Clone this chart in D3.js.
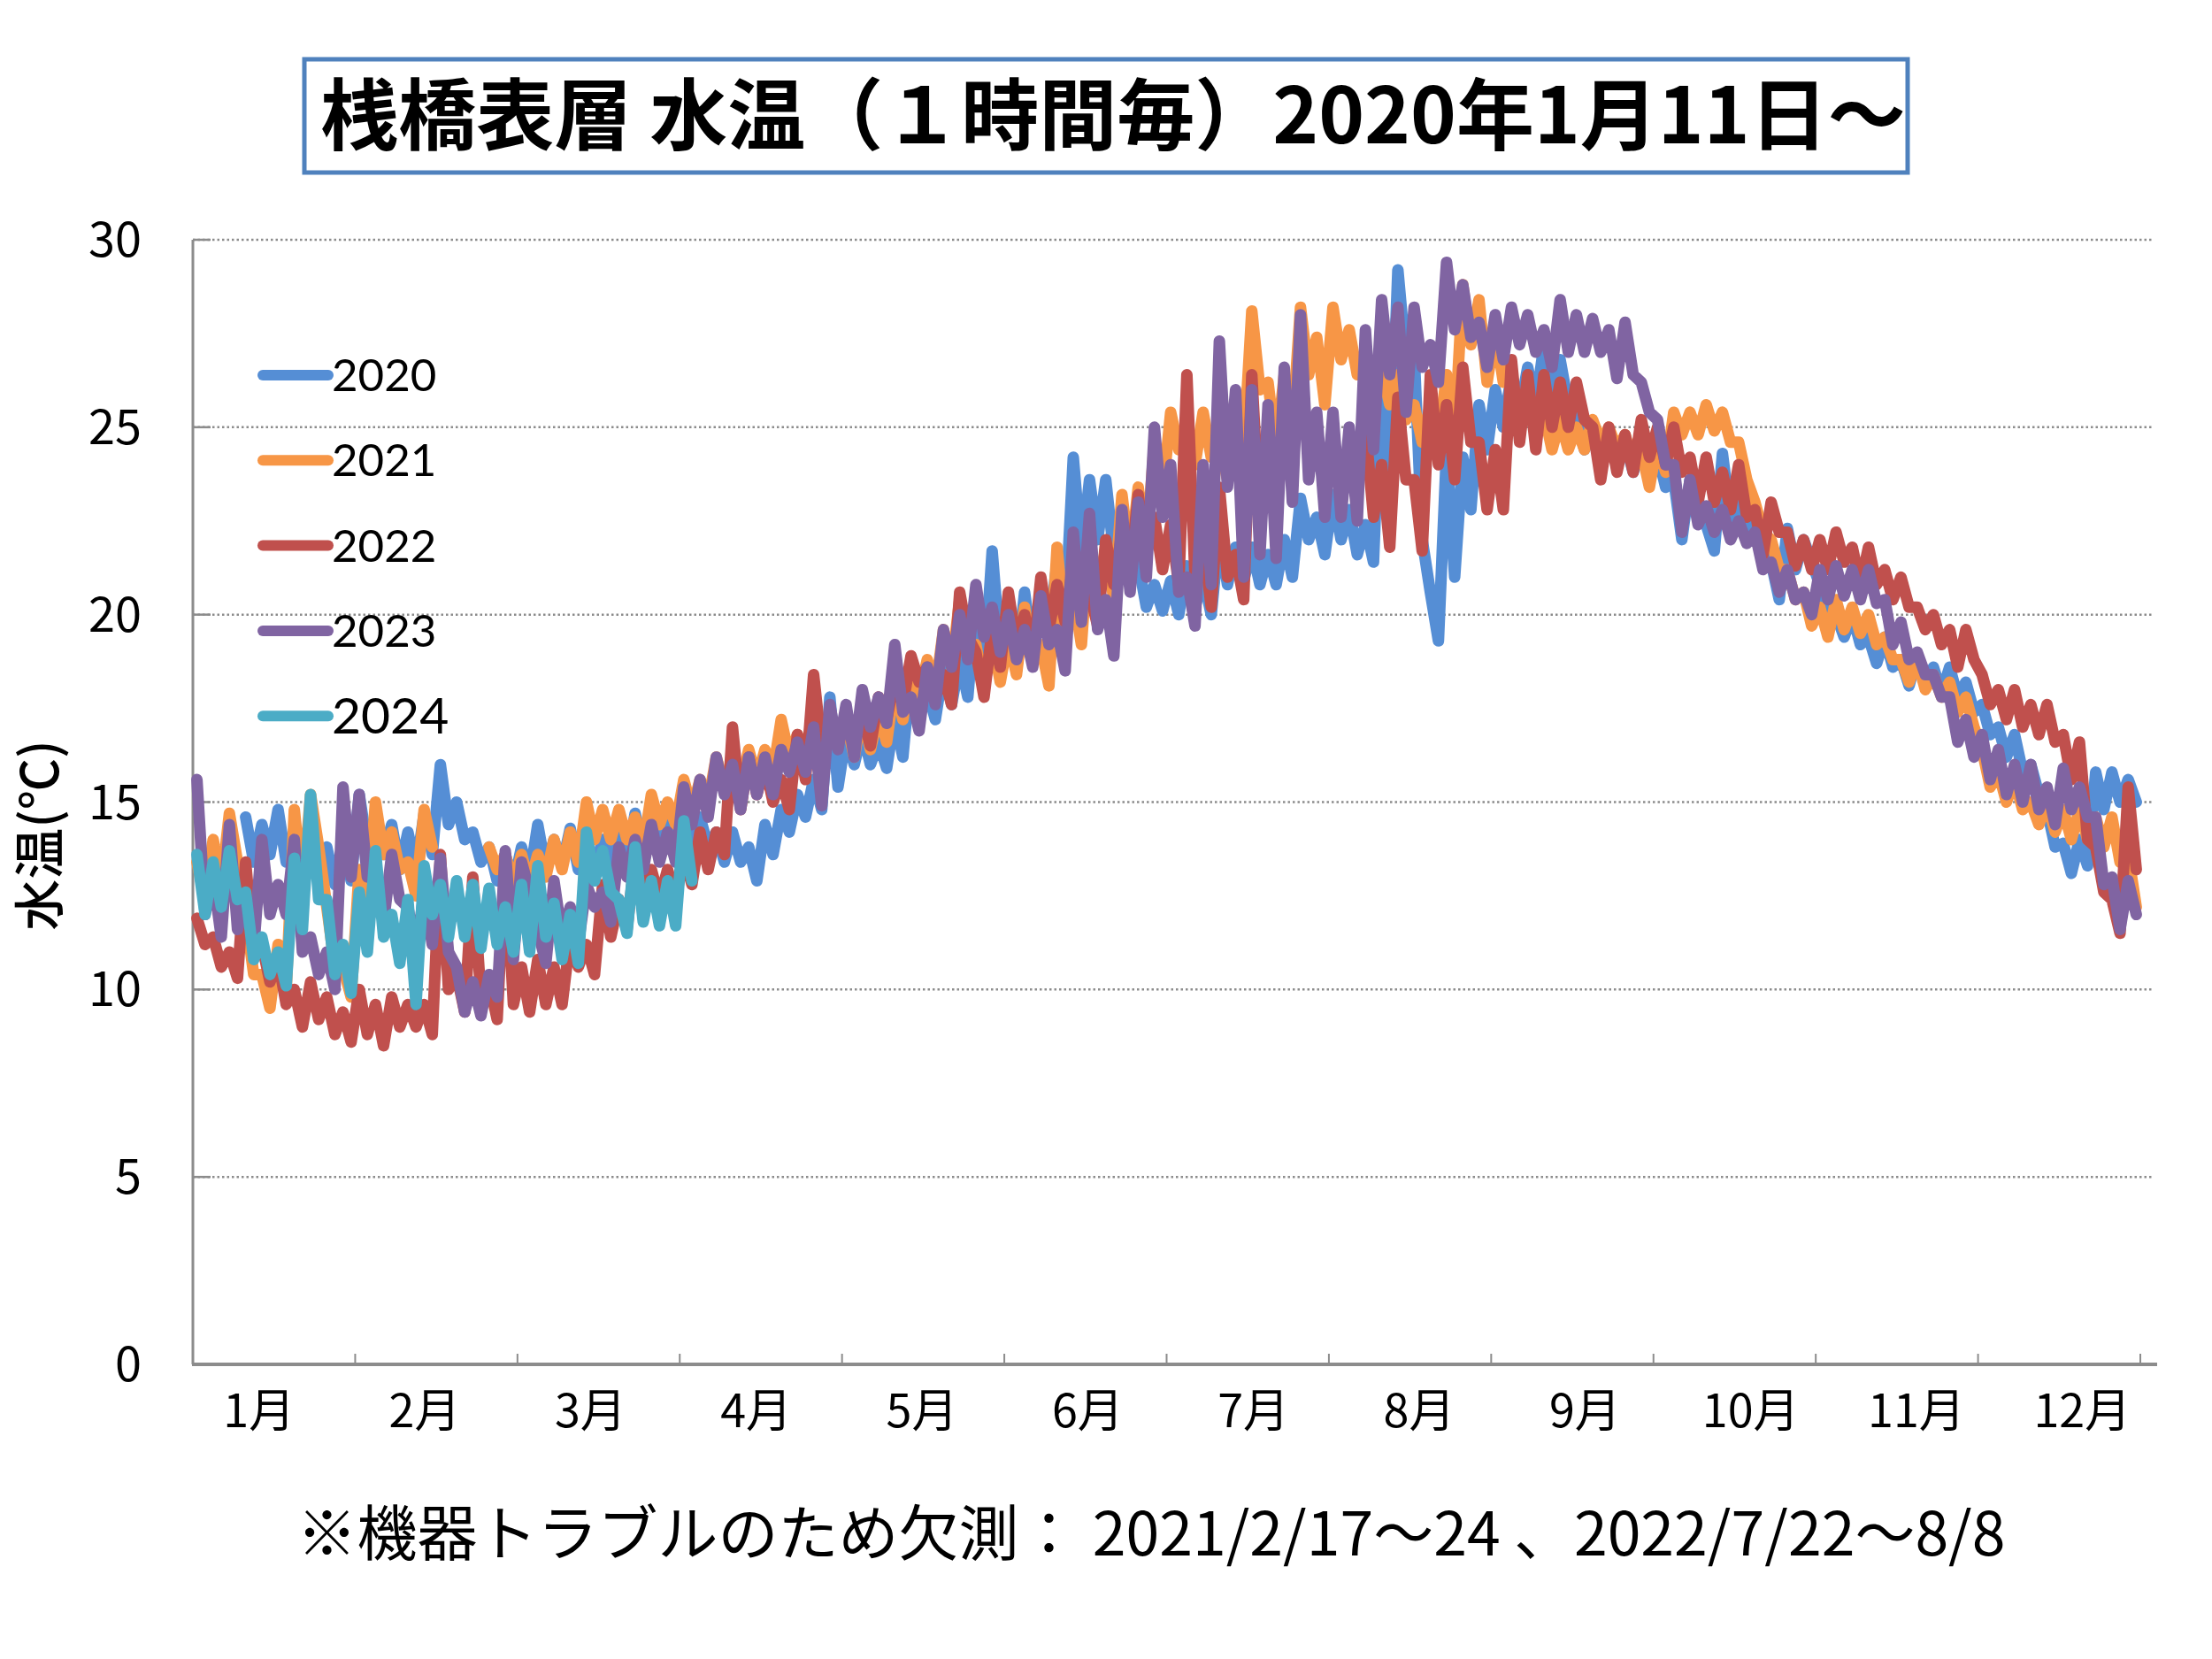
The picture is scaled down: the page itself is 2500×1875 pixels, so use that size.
<!DOCTYPE html>
<html>
<head>
<meta charset="utf-8">
<script src="https://cdn.jsdelivr.net/npm/d3@7/dist/d3.min.js"></script>
<style>
  body { margin: 0; background: #fff; }
</style>
</head>
<body>
<div id="chart"></div>
<script>
// month labels and y ticks
const months = ['1月', '2月', '3月', '4月', '5月', '6月', '7月', '8月', '9月', '10月', '11月', '12月'];
const yTicks = [0, 5, 10, 15, 20, 25, 30];
const years = ['2020', '2021', '2022', '2023', '2024'];

// water temp: 20 values per month (~1.5 days apart),
// high/low pairs so the line fills the hourly band like the original
const t2020 = [
  null, null, null, null, null, null, 14.6, 13.4, 14.4, 13.6, 14.8, 13.4, 14.0, 13.2, 14.0, 12.8, 13.8, 12.8, 14.0, 12.9,
  15.2, 13.8, 14.4, 13.6, 14.4, 13.2, 14.2, 13.2, 14.7, 13.6, 16.0, 14.4, 15.0, 14.0, 14.2, 13.4, 13.8, 12.9, 13.6, 12.8,
  13.8, 13.0, 14.4, 13.2, 14.0, 13.3, 14.3, 13.2, 14.0, 13.2, 14.0, 13.4, 14.2, 13.4, 14.7, 13.8, 14.6, 13.8, 14.5, 13.8,
  14.6, 14.0, 14.6, 13.8, 14.2, 13.4, 14.2, 13.4, 13.8, 12.9, 14.4, 13.6, 14.8, 14.2, 15.2, 14.6, 15.6, 14.8, 17.8, 15.4,
  16.8, 16.0, 16.9, 16.0, 16.6, 15.9, 17.3, 16.2, 18.6, 17.4, 18.0, 17.2, 18.6, 17.6, 18.8, 17.8, 20.4, 18.4, 21.7, 19.0,
  19.8, 18.5, 20.6, 19.0, 20.8, 19.6, 21.4, 20.0, 24.2, 21.6, 23.6, 22.0, 23.6, 21.6, 21.8, 20.9, 21.4, 20.2, 20.8, 20.1,
  20.9, 20.0, 21.3, 20.2, 21.0, 20.0, 22.2, 20.8, 21.8, 20.9, 21.8, 20.8, 21.6, 20.8, 22.0, 21.0, 23.1, 22.0, 22.6, 21.6,
  23.2, 22.0, 22.8, 21.6, 22.4, 21.4, 27.0, 23.5, 29.2, 26.8, 27.0, 22.0, 20.6, 19.3, 24.4, 21.0, 24.2, 22.8, 25.6, 24.4,
  26.0, 25.0, 26.4, 25.4, 26.6, 25.6, 27.2, 26.0, 26.8, 25.6, 25.2, 24.4, 25.0, 24.2, 24.8, 24.0, 24.6, 23.8, 24.4, 23.6,
  24.3, 23.4, 23.6, 22.0, 23.6, 22.6, 22.4, 21.7, 24.3, 22.6, 23.1, 22.2, 22.4, 21.8, 21.4, 20.4, 22.3, 21.2, 22.0, 21.4,
  20.8, 19.8, 20.0, 19.4, 20.0, 19.2, 19.4, 18.7, 19.4, 18.6, 18.8, 18.1, 18.9, 18.2, 18.6, 17.9, 18.6, 17.8, 18.2, 17.4,
  17.6, 16.8, 17.0, 16.2, 16.8, 15.8, 16.0, 15.2, 14.8, 13.8, 13.9, 13.1, 14.0, 13.3, 15.8, 14.8, 15.8, 15.0, 15.6, 15.0,
];
const t2021 = [
  13.4, 12.4, 14.0, 12.8, 14.7, 13.4, 12.0, 10.4, 10.4, 9.5, 11.2, 10.0, 14.8, 12.6, 15.2, 13.8, 12.2, 10.6, 10.6, 9.8,
  13.2, 12.2, 15.0, 13.6, 14.2, 13.2, 13.4, 12.5, 14.8, 13.8, null, null, null, null, null, null, 13.8, 13.2, 13.6, 12.8,
  13.6, 12.8, 13.6, 13.0, 14.0, 13.2, 14.2, 13.4, 15.0, 14.0, 14.8, 14.0, 14.8, 14.0, 14.6, 13.8, 15.2, 14.4, 15.0, 14.4,
  15.6, 14.8, 15.6, 15.0, 16.2, 15.4, 16.0, 15.4, 16.4, 15.6, 16.4, 15.8, 17.2, 16.2, 16.8, 16.2, 17.0, 16.2, 17.4, 16.6,
  17.2, 16.2, 17.4, 16.4, 17.4, 16.6, 18.2, 17.2, 18.6, 17.8, 18.8, 18.0, 19.6, 18.6, 20.4, 19.2, 19.2, 18.0, 19.4, 18.2,
  19.4, 18.4, 20.2, 18.8, 19.2, 18.1, 21.8, 19.4, 20.6, 19.2, 22.2, 20.4, 21.8, 20.4, 23.2, 21.4, 23.4, 21.8, 24.6, 23.2,
  25.4, 24.4, 25.0, 24.0, 25.4, 24.2, 24.6, 23.6, 25.6, 24.4, 28.1, 26.0, 26.2, 24.4, 26.4, 25.0, 28.2, 26.4, 27.4, 25.6,
  28.2, 26.8, 27.6, 26.4, 27.0, 25.8, 26.6, 25.6, 26.4, 25.2, 25.6, 24.6, 25.6, 24.6, 26.4, 24.8, 28.8, 27.2, 28.4, 26.2,
  27.6, 26.2, 26.4, 25.2, 26.0, 25.0, 25.4, 24.4, 25.2, 24.4, 25.0, 24.4, 25.2, 24.6, 25.0, 24.4, 24.8, 24.0, 24.4, 23.4,
  24.6, 23.8, 25.4, 24.8, 25.4, 24.8, 25.6, 24.9, 25.4, 24.6, 24.6, 23.6, 23.0, 22.2, 22.0, 21.2, 21.2, 20.4, 20.6, 19.7,
  20.2, 19.4, 20.4, 19.6, 20.2, 19.5, 20.0, 19.2, 19.4, 18.8, 18.8, 18.2, 18.8, 18.0, 18.4, 17.8, 18.2, 17.4, 17.8, 17.0,
  16.4, 15.4, 15.8, 15.0, 15.6, 14.8, 15.0, 14.4, 15.0, 14.2, 14.8, 14.0, 14.8, 14.0, 14.6, 13.8, 14.6, 13.4, 13.6, 12.2,
];
const t2022 = [
  11.9, 11.2, 11.4, 10.6, 11.0, 10.3, 13.4, 11.0, 11.2, 10.2, 10.8, 9.6, 10.0, 9.0, 10.2, 9.2, 9.8, 8.8, 9.4, 8.6,
  10.0, 8.8, 9.6, 8.5, 9.8, 9.0, 9.6, 9.0, 9.6, 8.8, 13.6, 10.0, 10.4, 9.4, 13.0, 9.8, 10.2, 9.2, 13.6, 9.6,
  10.6, 9.4, 10.8, 9.6, 10.6, 9.6, 11.4, 10.6, 11.2, 10.4, 12.8, 11.4, 12.4, 11.6, 13.6, 12.4, 13.2, 12.4, 13.2, 12.4,
  13.6, 12.8, 14.2, 13.2, 14.2, 13.6, 17.0, 14.8, 16.2, 15.2, 16.0, 15.0, 15.6, 14.8, 16.8, 15.6, 18.4, 16.4, 17.2, 16.6,
  17.2, 16.6, 17.3, 16.5, 17.8, 17.2, 18.3, 17.6, 18.9, 18.2, 18.6, 17.8, 18.4, 17.6, 20.6, 19.4, 19.0, 17.8, 19.6, 18.6,
  20.6, 19.2, 20.0, 18.8, 21.0, 19.6, 20.8, 19.8, 21.4, 20.2, 20.6, 19.7, 22.0, 20.8, 22.2, 21.2, 23.2, 21.6, 22.6, 21.2,
  22.4, 20.8, 26.4, 21.0, 22.0, 20.2, 23.4, 21.0, 21.6, 20.4, 26.4, 22.4, null, null, null, null, null, null, null, null,
  null, null, null, null, 25.0, 22.6, 24.0, 21.8, 25.8, 23.6, 23.6, 21.7, 26.4, 24.0, 25.6, 23.6, 26.6, 24.6, 24.6, 22.8,
  24.4, 22.8, 26.8, 24.6, 26.4, 24.4, 26.4, 25.0, 26.2, 25.0, 26.2, 25.2, 25.0, 23.6, 25.0, 23.8, 24.8, 23.8, 25.2, 24.2,
  25.0, 24.0, 25.0, 23.8, 24.2, 23.0, 24.2, 23.0, 23.8, 22.8, 24.0, 22.6, 22.8, 21.6, 23.0, 22.2, 22.2, 21.3, 22.0, 21.2,
  22.0, 21.2, 22.2, 21.4, 21.8, 20.8, 21.8, 20.8, 21.2, 20.4, 21.0, 20.2, 20.2, 19.6, 20.0, 19.2, 19.6, 18.6, 19.6, 18.8,
  18.4, 17.6, 18.0, 17.2, 18.0, 17.0, 17.6, 16.8, 17.6, 16.6, 16.8, 15.6, 16.6, 14.0, 13.8, 12.6, 12.4, 11.5, 15.4, 13.2,
];
const t2023 = [
  15.6, 12.0, 13.0, 11.4, 14.4, 11.6, 12.4, 11.1, 14.0, 12.0, 12.8, 12.0, 14.0, 11.0, 11.4, 10.4, 11.0, 10.0, 15.4, 13.0,
  15.2, 13.0, 13.2, 11.8, 13.6, 12.4, 12.2, 11.0, 12.6, 11.2, 13.5, 11.0, 10.6, 9.4, 10.2, 9.3, 10.4, 9.8, 13.7, 10.8,
  13.4, 12.6, 11.6, 10.7, 12.9, 11.4, 12.2, 11.2, 12.8, 12.2, 12.6, 11.8, 13.8, 13.0, 14.0, 13.2, 14.4, 13.4, 14.2, 13.4,
  15.4, 14.4, 15.6, 14.6, 16.2, 15.2, 16.0, 14.8, 16.2, 15.2, 16.2, 15.2, 16.4, 15.8, 16.6, 15.8, 17.0, 14.9, 17.6, 16.4,
  17.6, 16.2, 18.0, 17.0, 17.8, 17.1, 19.2, 17.4, 17.8, 16.9, 18.6, 17.6, 19.6, 18.6, 20.0, 18.8, 20.8, 19.4, 20.2, 19.0,
  20.0, 18.8, 19.6, 18.6, 20.5, 19.2, 19.6, 18.5, 22.2, 19.8, 22.7, 19.6, 20.4, 18.9, 22.8, 20.6, 23.0, 21.0, 25.0, 22.6,
  24.0, 20.6, 21.0, 19.7, 24.0, 20.8, 27.3, 23.4, 26.0, 21.0, 26.0, 21.6, 25.6, 21.5, 26.6, 23.0, 28.0, 23.6, 25.4, 22.6,
  25.4, 22.6, 25.0, 22.5, 27.6, 24.4, 28.4, 26.4, 28.2, 25.4, 28.2, 26.6, 27.2, 26.2, 29.4, 27.6, 28.8, 27.4, 27.8, 26.6,
  28.0, 26.8, 28.2, 27.2, 28.0, 27.0, 27.6, 26.6, 28.4, 27.0, 28.0, 27.0, 27.9, 27.0, 27.6, 26.3, 27.8, 26.4, 26.2, 25.4,
  25.2, 24.0, 24.0, 22.2, 23.6, 22.4, 22.9, 22.2, 22.8, 22.0, 22.5, 21.9, 22.2, 21.2, 21.4, 20.6, 21.2, 20.4, 20.6, 20.0,
  21.2, 20.4, 21.3, 20.5, 21.2, 20.4, 21.2, 20.3, 20.4, 19.2, 19.8, 18.8, 19.0, 18.4, 18.4, 17.8, 17.8, 16.6, 17.2, 16.2,
  16.8, 15.6, 16.4, 15.2, 16.0, 15.0, 16.0, 14.8, 15.4, 14.4, 15.9, 14.8, 15.4, 14.6, 14.6, 12.8, 13.0, 11.6, 12.9, 12.0,
];
const t2024 = [
  13.6, 12.0, 13.4, 12.2, 13.7, 12.4, 12.6, 10.8, 11.4, 10.4, 11.0, 10.1, 13.5, 11.6, 15.2, 12.4, 12.4, 10.4, 11.2, 9.9,
  12.6, 11.0, 13.7, 11.4, 12.0, 10.7, 12.4, 9.6, 13.3, 12.0, 12.8, 11.4, 12.9, 11.4, 12.8, 11.1, 12.7, 11.2, 12.2, 11.0,
  12.8, 11.0, 13.3, 11.4, 12.3, 10.8, 12.0, 10.7, 14.2, 12.9, 13.7, 12.6, 12.4, 11.5, 13.8, 11.8, 12.9, 11.7, 12.9, 11.7,
  14.5, 12.9,
];
const series = [t2020, t2021, t2022, t2023, t2024];
const colors = ['#558ED5', '#F79646', '#C0504D', '#8064A2', '#4BACC6'];

const W = 2500, H = 1875;
const m = { t: 271, r: 81, b: 333, l: 218 };
const JP = '"Noto Sans CJK JP", "Noto Sans", sans-serif';
const GRID = '#8c8c8c';

const svg = d3.select('#chart').append('svg')
  .attr('width', W).attr('height', H)
  .style('background', '#fff');

const perMonth = 20;
const n = months.length * perMonth;
const x = d3.scaleLinear().domain([0, n]).range([m.l, 2419]);
const y = d3.scaleLinear().domain([0, 30]).range([H - m.b, m.t]);

// title box
svg.append('rect').attr('x', 344).attr('y', 67).attr('width', 1812).attr('height', 128)
  .attr('fill', '#fff').attr('stroke', '#4F81BD').attr('stroke-width', 5);
svg.append('text').attr('x', 1258).attr('y', 162).attr('text-anchor', 'middle')
  .attr('font-family', JP).attr('font-weight', 700).attr('font-size', 88).attr('fill', '#000')
  .text('桟橋表層 水温（１時間毎）2020年1月11日～');

// gridlines
svg.append('g').selectAll('line').data(yTicks.filter((d) => d > 0)).join('line')
  .attr('x1', m.l).attr('x2', W - 66).attr('y1', y).attr('y2', y)
  .attr('stroke', GRID).attr('stroke-width', 2.5).attr('stroke-dasharray', '2.5 3');
// inner y ticks
svg.append('g').selectAll('line').data(yTicks).join('line')
  .attr('x1', m.l).attr('x2', m.l + 20).attr('y1', y).attr('y2', y)
  .attr('stroke', GRID).attr('stroke-width', 2.5);
svg.append('g').selectAll('text').data(yTicks).join('text')
  .attr('x', 160).attr('y', (d) => y(d) + 19).attr('text-anchor', 'end')
  .attr('font-family', JP).attr('font-size', 54).attr('fill', '#000')
  .text((d) => d);

// y axis title
svg.append('text').attr('transform', `translate(66,944) rotate(-90)`)
  .attr('text-anchor', 'middle').attr('font-family', JP).attr('font-weight', 500)
  .attr('font-size', 58).attr('fill', '#000')
  .text('水温(℃)');

// axes
svg.append('line').attr('x1', m.l).attr('x2', m.l).attr('y1', y(30)).attr('y2', y(0))
  .attr('stroke', GRID).attr('stroke-width', 3);
svg.append('line').attr('x1', m.l - 1).attr('x2', W - 62).attr('y1', y(0)).attr('y2', y(0))
  .attr('stroke', GRID).attr('stroke-width', 4);
svg.append('g').selectAll('line').data(d3.range(months.length + 1)).join('line')
  .attr('x1', (d) => x(d * perMonth)).attr('x2', (d) => x(d * perMonth))
  .attr('y1', y(0) - 12).attr('y2', y(0))
  .attr('stroke', GRID).attr('stroke-width', 2);
const lx = d3.scaleLinear().domain([0, months.length - 1])
  .range([x(perMonth / 2) - 17, x(n - perMonth / 2) + 26]);
svg.append('g').selectAll('text').data(months).join('text')
  .attr('x', (d, i) => lx(i)).attr('y', 1613).attr('text-anchor', 'middle')
  .attr('font-family', JP).attr('font-size', 52).attr('fill', '#000')
  .text((d) => d);

// series
const line = d3.line()
  .defined((d) => d != null)
  .x((d, i) => x(i + 0.5))
  .y((d) => y(d));
svg.append('g').selectAll('path').data(series).join('path')
  .attr('d', line)
  .attr('fill', 'none')
  .attr('stroke', (d, i) => colors[i])
  .attr('stroke-width', 13)
  .attr('stroke-linejoin', 'round')
  .attr('stroke-linecap', 'round');

// legend
const leg = svg.append('g');
years.forEach((yr, i) => {
  const cy = 424 + i * 96.3;
  leg.append('line').attr('x1', 297).attr('x2', 371).attr('y1', cy).attr('y2', cy)
    .attr('stroke', colors[i]).attr('stroke-width', 12).attr('stroke-linecap', 'round');
  leg.append('text').attr('x', 375).attr('y', cy + (i === 4 ? 20 : 18))
    .attr('font-family', 'Lato, "Open Sans", sans-serif')
    .attr('font-size', i === 4 ? 57 : 51).attr('fill', '#000')
    .text(yr);
});

// footnote
svg.append('text').attr('x', 1301).attr('y', 1758).attr('text-anchor', 'middle')
  .attr('font-family', JP).attr('font-size', 68).attr('fill', '#000')
  .text('※機器トラブルのため欠測： 2021/2/17～24 、2022/7/22～8/8');
</script>
</body>
</html>
